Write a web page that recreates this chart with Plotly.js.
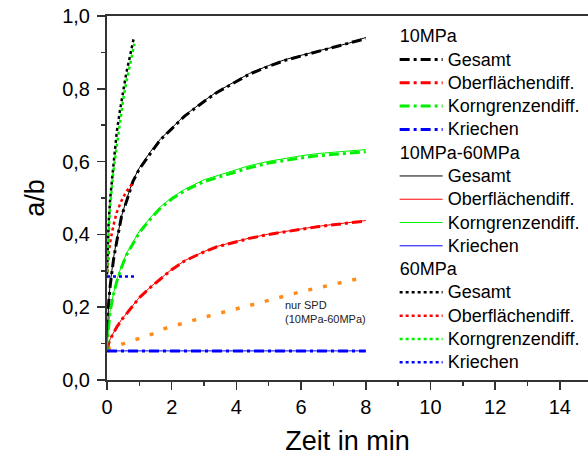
<!DOCTYPE html>
<html>
<head>
<meta charset="utf-8">
<script src="https://cdn.plot.ly/plotly-3.0.1.min.js"></script>
<style>html,body{margin:0;padding:0;background:#fff;}#chart{width:588px;height:458px;}</style>
</head>
<body>
<div id="chart"></div>
<script>
// time grid (min) for 10MPa and 10MPa-60MPa series
const t10 = [0, 0.02, 0.05, 0.1, 0.15, 0.2, 0.3, 0.45, 0.6, 0.8, 1.0, 1.35, 1.65, 2.0, 2.4, 3.0, 3.4, 4.0, 4.4, 5.0, 5.5, 6.0, 6.5, 7.0, 7.5, 8.0];

// 10MPa (dash-dot)
const gesamt10 = [0.08, 0.17, 0.21, 0.26, 0.30, 0.33, 0.38, 0.45, 0.49, 0.545, 0.58, 0.625, 0.66, 0.69, 0.725, 0.765, 0.79, 0.82, 0.84, 0.862, 0.878, 0.89, 0.902, 0.913, 0.924, 0.938];
const ober10   = [0.08, 0.09, 0.10, 0.112, 0.12, 0.13, 0.145, 0.165, 0.182, 0.205, 0.226, 0.255, 0.278, 0.303, 0.327, 0.352, 0.366, 0.38, 0.389, 0.40, 0.408, 0.414, 0.421, 0.427, 0.432, 0.437];
const korn10   = [0.08, 0.12, 0.145, 0.19, 0.215, 0.235, 0.27, 0.31, 0.343, 0.375, 0.405, 0.443, 0.472, 0.497, 0.52, 0.545, 0.556, 0.574, 0.583, 0.596, 0.604, 0.61, 0.616, 0.62, 0.624, 0.627];
const tKriech10 = [0, 8];
const kriech10 = [0.08, 0.08];

// 10MPa-60MPa (thin solid)
const gesamt1060 = [0.08, 0.17, 0.215, 0.265, 0.30, 0.335, 0.385, 0.45, 0.495, 0.548, 0.583, 0.628, 0.662, 0.692, 0.727, 0.767, 0.792, 0.822, 0.842, 0.864, 0.88, 0.892, 0.904, 0.915, 0.926, 0.941];
const ober1060   = [0.08, 0.09, 0.101, 0.113, 0.121, 0.131, 0.146, 0.166, 0.183, 0.206, 0.227, 0.256, 0.279, 0.304, 0.328, 0.353, 0.367, 0.381, 0.39, 0.401, 0.409, 0.415, 0.422, 0.428, 0.433, 0.438];
const korn1060   = [0.08, 0.122, 0.148, 0.193, 0.218, 0.238, 0.274, 0.314, 0.347, 0.379, 0.409, 0.447, 0.476, 0.501, 0.524, 0.55, 0.561, 0.579, 0.589, 0.601, 0.609, 0.616, 0.622, 0.626, 0.63, 0.633];
const kriech1060 = [0.08, 0.08];

// 60MPa (dotted)
const t60g = [0, 0.02, 0.05, 0.1, 0.15, 0.2, 0.3, 0.4, 0.5, 0.6, 0.7, 0.82];
const gesamt60 = [0.29, 0.37, 0.43, 0.50, 0.55, 0.60, 0.68, 0.74, 0.795, 0.845, 0.885, 0.936];
const t60o = [0, 0.02, 0.05, 0.1, 0.15, 0.2, 0.3, 0.45, 0.6, 0.82];
const ober60 = [0.28, 0.31, 0.345, 0.38, 0.405, 0.425, 0.46, 0.493, 0.518, 0.544];
const t60k = [0, 0.02, 0.05, 0.1, 0.15, 0.2, 0.3, 0.4, 0.5, 0.6, 0.7, 0.85];
const korn60 = [0.28, 0.34, 0.40, 0.48, 0.54, 0.575, 0.64, 0.71, 0.77, 0.82, 0.86, 0.924];
const tKriech60 = [0, 0.85];
const kriech60 = [0.284, 0.284];

// nur SPD (10MPa-60MPa)
const tSPD = [0, 0.46, 0.93, 1.39, 1.8, 2.26, 3.19, 4.58, 5.97, 8.0];
const spd  = [0.085, 0.098, 0.112, 0.126, 0.142, 0.154, 0.177, 0.209, 0.242, 0.283];

const groupNames = ['10MPa', '10MPa-60MPa', '60MPa'];
const itemNames = ['Gesamt', 'Oberflächendiff.', 'Korngrenzendiff.', 'Kriechen'];
const colors = ['#000000', '#ff0000', '#00f000', '#0000ff'];

const FONT = 'Arial, "Liberation Sans", sans-serif';
const DASHDOT = '10px,4px,3px,4px';
const LEGSIZE = 15.6;
const big = s => '<span style="font-size:18px">' + s + '</span>';

function tr(x, y, name, group, color, width, dash) {
  return {
    type: 'scatter', mode: 'lines', x: x, y: y, name: big(name),
    legendgroup: group, legendgrouptitle: {text: big(group), font: {size: LEGSIZE, color: '#000', family: FONT}},
    line: {color: color, width: width, dash: dash}
  };
}

const data = [
  {type: 'scatter', mode: 'lines', x: tSPD, y: spd, showlegend: false,
   line: {color: '#ff8c1a', width: 3.5, dash: '4px,11px'}},
  tr(t10, gesamt10, itemNames[0], groupNames[0], colors[0], 3, DASHDOT),
  tr(t10, ober10, itemNames[1], groupNames[0], colors[1], 3, DASHDOT),
  tr(t10, korn10, itemNames[2], groupNames[0], colors[2], 3, DASHDOT),
  tr(tKriech10, kriech10, itemNames[3], groupNames[0], colors[3], 3, DASHDOT),
  tr(t10, gesamt1060, itemNames[0], groupNames[1], colors[0], 1, 'solid'),
  tr(t10, ober1060, itemNames[1], groupNames[1], colors[1], 1, 'solid'),
  tr(t10, korn1060, itemNames[2], groupNames[1], colors[2], 1, 'solid'),
  tr(tKriech10, kriech1060, itemNames[3], groupNames[1], colors[3], 1, 'solid'),
  tr(t60g, gesamt60, itemNames[0], groupNames[2], colors[0], 2.5, 'dot'),
  tr(t60o, ober60, itemNames[1], groupNames[2], colors[1], 2.5, 'dot'),
  tr(t60k, korn60, itemNames[2], groupNames[2], colors[2], 2.5, 'dot'),
  tr(tKriech60, kriech60, itemNames[3], groupNames[2], colors[3], 2.5, 'dot')
];

const axisCommon = {
  showgrid: false, zeroline: false, showline: true, linecolor: '#333', linewidth: 2,
  ticks: 'outside', ticklen: 8, tickwidth: 1.5, tickcolor: '#333',
  tickfont: {size: 20, color: '#000', family: FONT}
};

const layout = {
  width: 588, height: 458,
  margin: {l: 107, r: 0, t: 16, b: 78},
  paper_bgcolor: '#fff', plot_bgcolor: '#fff',
  separators: ', ',
  font: {family: FONT, color: '#000'},
  xaxis: Object.assign({}, axisCommon, {
    range: [0, 14.87], dtick: 2, tick0: 0, mirror: true,
    minor: {dtick: 1, ticks: 'outside', ticklen: 4, tickwidth: 1.5, tickcolor: '#333', showgrid: false},
    title: {text: 'Zeit in min', font: {size: 27, color: '#000', family: FONT}, standoff: 14}
  }),
  yaxis: Object.assign({}, axisCommon, {
    range: [0, 1], dtick: 0.2, tick0: 0, tickformat: '.1f', ticklabelstandoff: 3,
    minor: {dtick: 0.1, ticks: 'outside', ticklen: 4, tickwidth: 1.5, tickcolor: '#333', showgrid: false},
    title: {text: 'a/b', font: {size: 27, color: '#000', family: FONT}, standoff: 10}
  }),
  legend: {
    x: 0.598, xanchor: 'left', y: 0.99, yanchor: 'top',
    bgcolor: 'rgba(0,0,0,0)', font: {size: LEGSIZE, color: '#000', family: FONT},
    tracegroupgap: 0, traceorder: 'grouped', itemwidth: 43
  },
  annotations: [{
    x: 5.45, y: 0.188, xref: 'x', yref: 'y', showarrow: false,
    xanchor: 'left', yanchor: 'middle', align: 'left',
    text: 'nur SPD<br>(10MPa-60MPa)', font: {size: 11, color: '#222', family: FONT}
  }]
};

Plotly.newPlot('chart', data, layout, {displayModeBar: false, staticPlot: true});
</script>
</body>
</html>
